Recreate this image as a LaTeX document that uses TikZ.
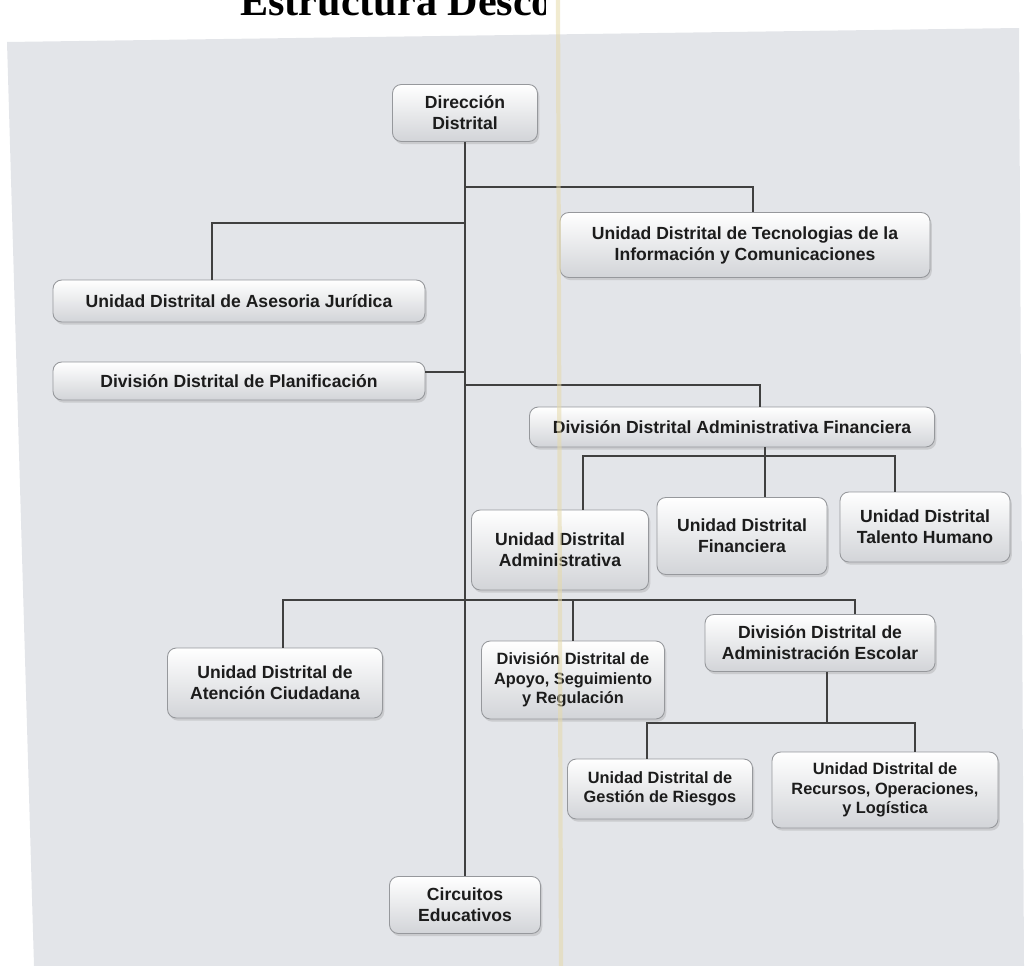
\documentclass[tikz,border=0pt]{standalone}
\usepackage{fontspec}
\setmainfont{Liberation Sans}
\newfontfamily\titlefont{Liberation Serif}
\usetikzlibrary{shadows}

\definecolor{paper}{RGB}{227,229,233}
\definecolor{fold}{RGB}{230,218,170}
\definecolor{boxline}{RGB}{150,152,156}
\definecolor{boxlow}{RGB}{210,212,216}
\definecolor{ink}{RGB}{28,28,28}

\tikzset{
    unit/.style 2 args={draw=boxline, line width=0.5pt, rounded corners=5pt,
        top color=white, bottom color=boxlow,
        drop shadow={opacity=0.25, shadow xshift=1pt, shadow yshift=-1.5pt},
        minimum width=#1*0.02cm, minimum height=#2*0.02cm, inner sep=1pt,
        align=center, text=ink, font=\bfseries\fontsize{10}{12}\selectfont},
    small/.style={font=\bfseries\fontsize{9.3}{11}\selectfont},
    link/.style={draw=black!75, line width=0.6pt}
}

\begin{document}
\begin{tikzpicture}[x=0.02cm, y=-0.02cm]
        \useasboundingbox (0,0) rectangle (1031,966);

        % hoja escaneada
        \fill[paper] (7,42) -- (1019,28) -- (1024,966) -- (34,966) -- cycle;

        \begin{scope}
            \clip (0,0) rectangle (545,40);
            \node[anchor=base west, inner sep=0pt, font=\titlefont\bfseries\fontsize{24}{28}\selectfont] (title) at (240,16) {Estructura Desconcentrada};
        \end{scope}

        \node[unit={145}{57}] (dir) at (465,113) {Dirección\\Distrital};
        \node[unit={370}{65}] (tic) at (745,245) {Unidad Distrital de Tecnologias de la\\Información y Comunicaciones};
        \node[unit={372}{42}] (jur) at (239,301) {Unidad Distrital de Asesoria Jurídica};
        \node[unit={372}{38}] (plan) at (239,381) {División Distrital de Planificación};
        \node[unit={405}{40}] (daf) at (732,427) {División Distrital Administrativa Financiera};

        \node[unit={177}{80}] (adm) at (560,550) {Unidad Distrital\\Administrativa};
        \node[unit={170}{77}] (fin) at (742,536) {Unidad Distrital\\Financiera};
        \node[unit={170}{70}] (tal) at (925,527) {Unidad Distrital\\Talento Humano};

        \node[unit={215}{70}] (ate) at (275,683) {Unidad Distrital de\\Atención Ciudadana};
        \node[unit={183}{78}, small] (apo) at (573,680) {División Distrital de\\Apoyo, Seguimiento\\y Regulación};
        \node[unit={230}{57}] (esc) at (820,643) {División Distrital de\\Administración Escolar};

        \node[unit={185}{60}, small] (rie) at (660,789) {Unidad Distrital de\\Gestión de Riesgos};
        \node[unit={226}{76}, small] (rec) at (885,790) {Unidad Distrital de\\Recursos, Operaciones,\\y Logística};

        \node[unit={151}{57}] (cir) at (465,905) {Circuitos\\Educativos};

        % conectores
        \coordinate (dafbus) at (765,456);
        \coordinate (escbus) at (827,723);

        \draw[link] (dir.south) -- (cir.north);
        \draw[link] (dir.south |- 0,187) -| (753,0 |- tic.north);
        \draw[link] (dir.south |- 0,223) -| (212,0 |- jur.north);
        \draw[link] (plan.east |- 0,372) -- (dir.south |- 0,372);
        \draw[link] (dir.south |- 0,385) -| (760,0 |- daf.north);

        \draw[link] (dafbus |- daf.south) -- (dafbus);
        \draw[link] (583,0 |- adm.north) |- (895,0 |- dafbus) -- (895,0 |- tal.north);
        \draw[link] (dafbus) -- (dafbus |- fin.north);

        \draw[link] (283,0 |- ate.north) |- (855,600) -- (855,0 |- esc.north);
        \draw[link] (573,600) -- (apo.north);

        \draw[link] (escbus |- esc.south) -- (escbus);
        \draw[link] (647,0 |- rie.north) |- (915,0 |- escbus) -- (915,0 |- rec.north);

        % pliegue del escaneo
        \draw[fold, line width=2.4pt, opacity=0.55] (558,0) -- (561,966);

\end{tikzpicture}
\end{document}
